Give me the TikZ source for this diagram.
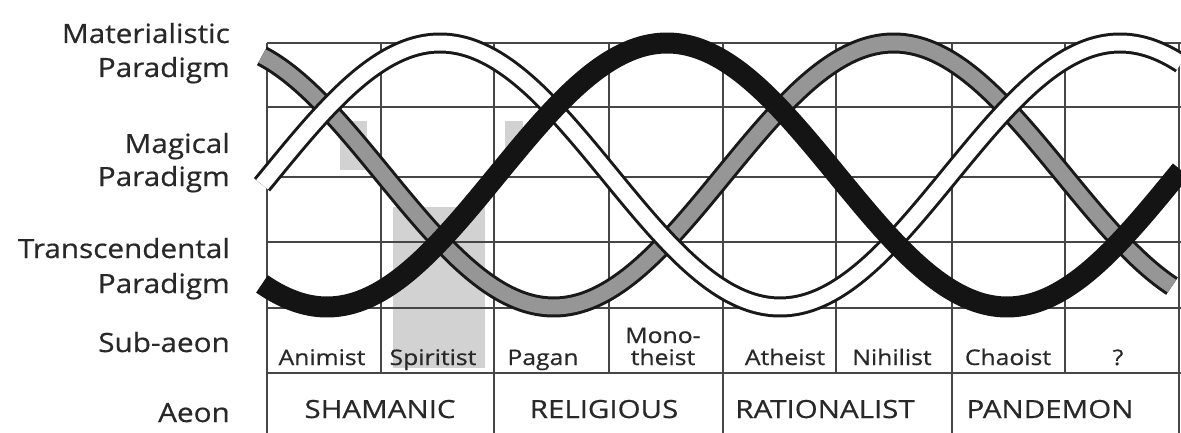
\documentclass[tikz,border=0pt]{standalone}
\usepackage{fontspec}
\setmainfont{Open Sans}
\newfontfamily\labfont[FakeStretch=1.12,FakeBold=0.6]{Open Sans}
\newfontfamily\cellfont[FakeStretch=1.15,FakeBold=0.6]{Open Sans}
\newfontfamily\aeonfont[FakeStretch=1.18,FakeBold=0.6]{Open Sans}
\definecolor{gridc}{RGB}{70,70,70}
\definecolor{linec}{RGB}{25,25,25}
\definecolor{bandgray}{RGB}{150,150,150}
\definecolor{shadec}{RGB}{210,210,210}
\definecolor{txtc}{RGB}{40,40,40}
\begin{document}
\begin{tikzpicture}[x=1pt,y=-1pt,
  gridline/.style={draw=gridc, line width=2.2pt},
  lab/.style={font=\labfont\fontsize{26.5}{30}\selectfont, anchor=base east, inner sep=0pt, text=txtc},
  cell/.style={font=\cellfont\fontsize{21.5}{24}\selectfont, anchor=base, inner sep=0pt, text=txtc},
  aeon/.style={font=\aeonfont\fontsize{25}{28}\selectfont, anchor=base, inner sep=0pt, text=txtc},
  shadebox/.style={fill=shadec, draw=none},
  bandout/.style={draw=linec, line width=21pt, line join=round},
  bandin/.style={line width=15pt, line join=round},
  blackband/.style={draw=black!92, line width=21pt, line join=round}
]
\useasboundingbox (0,0) rectangle (1181,433);
\fill[white] (0,0) rectangle (1181,433);

% shaded columns
\fill[shadebox] (340,121) rectangle (367,170);
\fill[shadebox] (393,207) rectangle (485,368);
\fill[shadebox] (505,121) rectangle (523,150);

% grid
\foreach \yy in {43,107,177,242,308,373}
  \draw[gridline] (267,\yy) -- (1181,\yy);
\foreach \xx in {381,494,609,723,836,952,1065,1179}
  \draw[gridline] (\xx,43) -- (\xx,373);
\foreach \xx in {267,494,723,952,1179}
  \draw[gridline] (\xx,43) -- (\xx,433);

% gray band (bottom)
\draw[bandout] plot[domain=262:1172, samples=300] (\x,{175-132*cos(((\x-893.7)/680)*360)});
\draw[bandin, draw=bandgray] plot[domain=262:1172, samples=300] (\x,{175-132*cos(((\x-893.7)/680)*360)});
% white band (middle)
\draw[bandout] plot[domain=262:1181, samples=300] (\x,{175-132*cos(((\x-440)/680)*360)});
\draw[bandin, draw=white] plot[domain=262:1181, samples=300] (\x,{175-132*cos(((\x-440)/680)*360)});
% black band (top)
\draw[blackband] plot[domain=262:1181, samples=300] (\x,{175-132*cos(((\x-667)/680)*360)});

% row labels
\node[lab] (mat1) at (230,43) {Materialistic};
\node[lab] (mat2) at (230,77) {Paradigm};
\node[lab] (mag1) at (230,153) {Magical};
\node[lab] (mag2) at (230,186) {Paradigm};
\node[lab] (tr1) at (230,258) {Transcendental};
\node[lab] (tr2) at (230,293) {Paradigm};
\node[lab] (sub) at (230,352) {Sub-aeon};
\node[lab] (aeo) at (230,422) {Aeon};

% sub-aeons
\node[cell] (s1) at (322,365) {Animist};
\node[cell] (s2) at (433,365) {Spiritist};
\node[cell] (s3) at (543,365) {Pagan};
\node[cell] (s4a) at (663,343) {Mono-};
\node[cell] (s4b) at (663,365) {theist};
\node[cell] (s5) at (785,365) {Atheist};
\node[cell] (s6) at (892,365) {Nihilist};
\node[cell] (s7) at (1008,365) {Chaoist};
\node[cell] (s8) at (1118,365) {?};

% aeons
\node[aeon] (a1) at (380,418) {SHAMANIC};
\node[aeon] (a2) at (604,418) {RELIGIOUS};
\node[aeon] (a3) at (825,418) {RATIONALIST};
\node[aeon] (a4) at (1050,418) {PANDEMON};
\end{tikzpicture}
\end{document}
